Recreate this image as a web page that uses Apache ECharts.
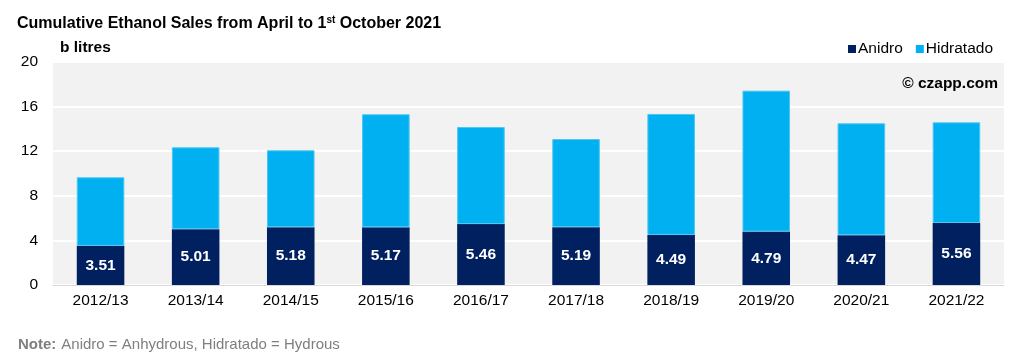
<!DOCTYPE html>
<html><head><meta charset="utf-8">
<script src="https://cdn.jsdelivr.net/npm/echarts@6/dist/echarts.min.js"></script>
<style>html,body{margin:0;padding:0;background:#fff}#c{width:1024px;height:363px}</style>
</head><body><div id="c"></div>
<script>
const categories = ['2012/13','2013/14','2014/15','2015/16','2016/17','2017/18','2018/19','2019/20','2020/21','2021/22'];
const anidro = [3.51, 5.01, 5.18, 5.17, 5.46, 5.19, 4.49, 4.79, 4.47, 5.56];
const hidratado = [6.15, 7.34, 6.90, 10.14, 8.71, 7.90, 10.85, 12.64, 10.03, 9.03];
const yTicks = [0, 4, 8, 12, 16, 20];

const FONT = '"Liberation Sans", Arial, sans-serif';
const chart = echarts.init(document.getElementById('c'));
chart.setOption({
  animation: false,
  textStyle: { fontFamily: FONT },
  title: [
    { text: '{a|Cumulative Ethanol Sales from April to 1}{s|st}{a| October 2021}', left: 12, top: 10,
      textStyle: { rich: { a: { fontFamily: FONT, fontWeight: 'bold', fontSize: 16, color: '#000' },
                           s: { fontFamily: FONT, fontWeight: 'bold', fontSize: 10, color: '#000', verticalAlign: 'top', padding: [0,0,8,0] } } } },
    { text: 'b litres', left: 55, top: 35, textStyle: { fontFamily: FONT, fontWeight: 'bold', fontSize: 15.5, color: '#000' } },
    { text: '© czapp.com', right: 21, top: 71, textStyle: { fontFamily: FONT, fontWeight: 'bold', fontSize: 15.5, color: '#000' } },
    { text: '{b|Note:} {r|Anidro = Anhydrous, Hidratado = Hydrous}', left: 13, top: 331,
      textStyle: { rich: { b: { fontFamily: FONT, fontWeight: 'bold', fontSize: 15, color: '#7f7f7f' },
                           r: { fontFamily: FONT, fontWeight: 'normal', fontSize: 15, color: '#7f7f7f' } } } }
  ],
  legend: {
    right: 26, top: 36, itemWidth: 8, itemHeight: 8, itemGap: 13,
    icon: 'rect',
    itemStyle: { borderWidth: 0 },
    textStyle: { fontFamily: FONT, fontSize: 15.5, color: '#000', padding: [0,0,0,-3] },
    data: ['Anidro', 'Hidratado']
  },
  grid: { left: 53, right: 20, top: 62, bottom: 78, show: true, backgroundColor: '#F2F2F2', borderWidth: 0 },
  xAxis: {
    type: 'category', data: categories,
    axisLine: { lineStyle: { color: '#d9d9d9', width: 1 } },
    axisTick: { show: false },
    axisLabel: { fontFamily: FONT, fontSize: 15.5, color: '#000', margin: 8 }
  },
  yAxis: {
    type: 'value', min: yTicks[0], max: yTicks[yTicks.length - 1], interval: 4,
    axisLine: { show: false }, axisTick: { show: false },
    splitLine: { lineStyle: { color: '#ffffff', width: 2 } },
    axisLabel: { fontFamily: FONT, fontSize: 15.5, color: '#000', margin: 15 }
  },
  series: [
    { name: 'Anidro', type: 'bar', stack: 't', data: anidro, barWidth: '50%',
      itemStyle: { color: '#002060' },
      label: { show: true, position: 'inside', color: '#fff', fontFamily: FONT, fontWeight: 'bold', fontSize: 15.5,
               formatter: p => p.value.toFixed(2) } },
    { name: 'Hidratado', type: 'bar', stack: 't', data: hidratado, barWidth: '50%',
      itemStyle: { color: '#00B0F0', borderColor: '#4cc6f3', borderWidth: 1 } }
  ]
});
</script></body></html>
